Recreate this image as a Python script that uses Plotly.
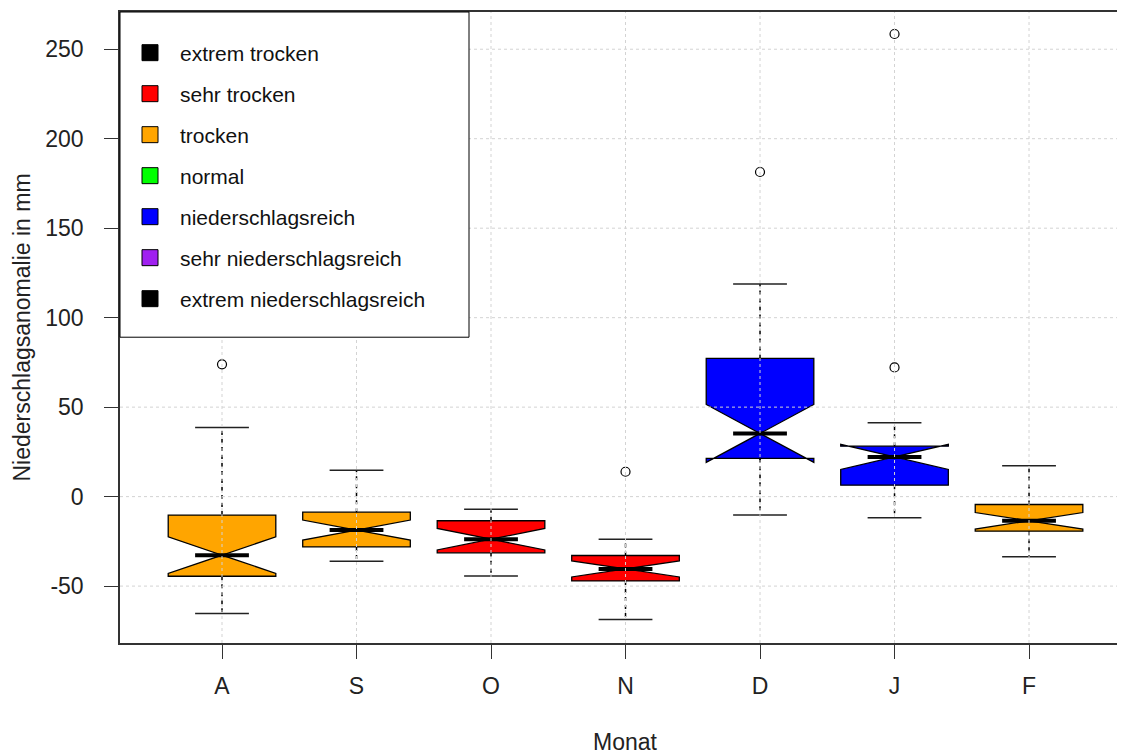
import plotly.graph_objects as go

# ---------------- data ----------------
months = ["A", "S", "O", "N", "D", "J", "F"]
positions = [1, 2, 3, 4, 5, 6, 7]
lower_whisker = [-65.3, -36.1, -44.4, -68.6, -10.3, -11.8, -33.6]
q1 = [-44.5, -28.1, -31.4, -47.1, 21.4, 6.4, -19.3]
median = [-32.7, -18.7, -23.8, -40.4, 35.3, 22.2, -13.5]
q3 = [-10.3, -8.7, -13.5, -32.9, 77.2, 28.2, -4.4]
upper_whisker = [38.6, 14.8, -7.0, -23.8, 118.8, 41.3, 17.2]
notch_half = [10.2, 5.6, 6.0, 4.5, 16.2, 7.0, 4.6]
box_class = ["trocken", "trocken", "sehr trocken", "sehr trocken",
             "niederschlagsreich", "niederschlagsreich", "trocken"]
outlier_month = ["A", "N", "D", "J", "J"]
outlier_value = [73.9, 13.9, 181.4, 72.2, 258.5]

legend_labels = ["extrem trocken", "sehr trocken", "trocken", "normal",
                 "niederschlagsreich", "sehr niederschlagsreich",
                 "extrem niederschlagsreich"]
legend_colors = ["#000000", "#FF0000", "#FFA500", "#00FF00",
                 "#0000FF", "#A020F0", "#000000"]
class_color = dict(zip(legend_labels[1:6], legend_colors[1:6]))

ytick_vals = [-50, 0, 50, 100, 150, 200, 250]
ytick_text = ["-50", "0", "50", "100", "150", "200", "250"]

# ---------------- style ----------------
FONT = "Arial, Liberation Sans, sans-serif"
BOX_W = 0.8
CAP_HALF = 0.2
GRID = "#D3D3D3"

fig = go.Figure()

# boxes (whiskers drawn separately, dashed)
for i, p in enumerate(positions):
    fig.add_trace(go.Box(
        x=[p], q1=[q1[i]], median=[median[i]], q3=[q3[i]],
        lowerfence=[q1[i]], upperfence=[q3[i]],
        notchspan=[notch_half[i]], notched=True, notchwidth=0.5,
        width=BOX_W, whiskerwidth=0,
        fillcolor=class_color[box_class[i]],
        line=dict(color="black", width=1.3),
        boxpoints=False, showlegend=False, hoverinfo="skip",
    ))

# dashed whiskers
wx, wy = [], []
for i, p in enumerate(positions):
    wx += [p, p, None, p, p, None]
    wy += [q3[i], upper_whisker[i], None, q1[i], lower_whisker[i], None]
fig.add_trace(go.Scatter(x=wx, y=wy, mode="lines",
                         line=dict(color="black", width=1.5, dash="4px,4px"),
                         showlegend=False, hoverinfo="skip"))

# staples
cx, cy = [], []
for i, p in enumerate(positions):
    for v in (upper_whisker[i], lower_whisker[i]):
        cx += [p - CAP_HALF, p + CAP_HALF, None]
        cy += [v, v, None]
fig.add_trace(go.Scatter(x=cx, y=cy, mode="lines",
                         line=dict(color="#222222", width=1.5),
                         showlegend=False, hoverinfo="skip"))

# thick medians
mx, my = [], []
for i, p in enumerate(positions):
    mx += [p - CAP_HALF, p + CAP_HALF, None]
    my += [median[i], median[i], None]
fig.add_trace(go.Scatter(x=mx, y=my, mode="lines",
                         line=dict(color="black", width=4),
                         showlegend=False, hoverinfo="skip"))

# outliers
pos_of = dict(zip(months, positions))
fig.add_trace(go.Scatter(
    x=[pos_of[m] for m in outlier_month], y=outlier_value, mode="markers",
    marker=dict(symbol="circle-open", size=9, color="black", line=dict(width=1.2)),
    showlegend=False, hoverinfo="skip"))

# legend entries
for lab, col in zip(legend_labels, legend_colors):
    fig.add_trace(go.Scatter(
        x=[None], y=[None], mode="markers", name=lab, legendgroup=lab,
        marker=dict(symbol="square", size=18, color=col,
                    line=dict(color="black", width=1)),
    ))

# grid on top (like R's grid() after boxplot)
shapes = []
for v in ytick_vals:
    shapes.append(dict(type="line", xref="paper", yref="y", x0=0, x1=1, y0=v, y1=v,
                       line=dict(color=GRID, width=1, dash="3px,3px"), layer="above"))
for p in positions:
    shapes.append(dict(type="line", xref="x", yref="paper", x0=p, x1=p, y0=0, y1=1,
                       line=dict(color=GRID, width=1, dash="3px,3px"), layer="above"))
# legend box (349 px wide, 325 px tall)
shapes.append(dict(type="rect", xref="paper", yref="paper",
                   x0=0, x1=349 / 1013, y0=0.4846, y1=1,
                   fillcolor="white", line=dict(color="black", width=1), layer="above"))

fig.update_layout(
    width=1125, height=755,
    margin=dict(l=112, r=0, t=4, b=120),
    paper_bgcolor="white", plot_bgcolor="white",
    boxmode="overlay",
    font=dict(family=FONT, size=23, color="#222222"),
    shapes=shapes,
    showlegend=True,
    legend=dict(x=0, y=0.9675, xanchor="left", yanchor="top",
                bgcolor="rgba(0,0,0,0)", borderwidth=0,
                itemwidth=50, tracegroupgap=10.7,
                font=dict(family=FONT, size=21, color="#111111")),
    xaxis=dict(range=[0.2416, 7.773], tickvals=positions, ticktext=months,
               showgrid=False, zeroline=False,
               showline=True, mirror=True, linecolor="#333333", linewidth=1.5,
               ticks="outside", ticklen=14, tickcolor="#333333", tickwidth=1,
               ticklabelstandoff=8),
    yaxis=dict(range=[-81.8, 270.8], tickvals=ytick_vals, ticktext=ytick_text,
               showgrid=False, zeroline=False,
               showline=True, linecolor="#333333", linewidth=1.5,
               ticks="outside", ticklen=14, tickcolor="#333333", tickwidth=1,
               ticklabelstandoff=16),
    annotations=[
        dict(text="Niederschlagsanomalie in mm", xref="paper", yref="paper",
             x=0, y=0.5, xshift=-99, textangle=-90, showarrow=False,
             xanchor="center", yanchor="middle",
             font=dict(family=FONT, size=23, color="#222222")),
        dict(text="Monat", xref="x", yref="paper",
             x=4, y=-0.1615, yshift=3, showarrow=False,
             xanchor="center", yanchor="middle",
             font=dict(family=FONT, size=23, color="#222222")),
    ],
)

fig.write_html("out.html")
